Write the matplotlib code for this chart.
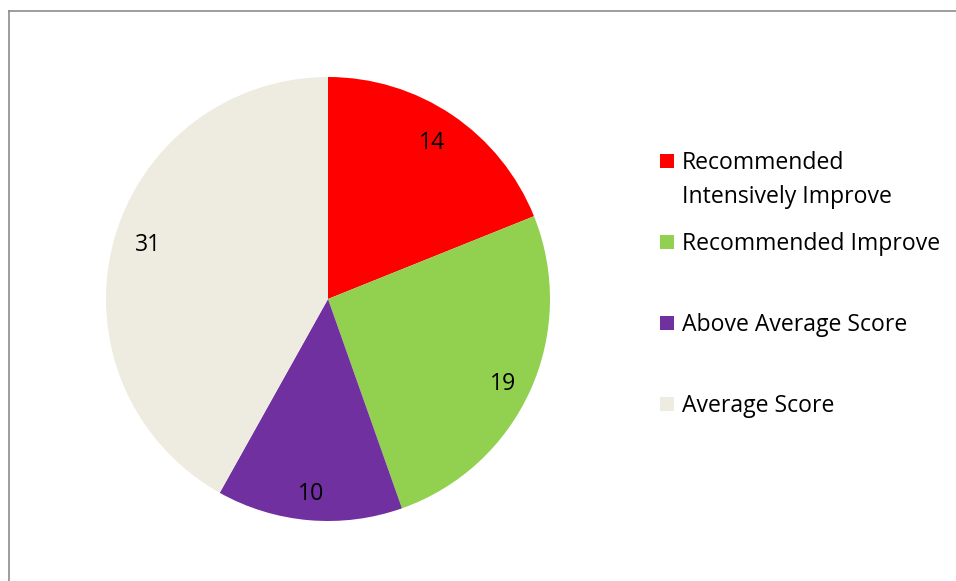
import matplotlib.pyplot as plt
from matplotlib.lines import Line2D
from matplotlib.patches import Rectangle

plt.rcParams["font.family"] = ["Open Sans", "DejaVu Sans"]

CATEGORIES = [
    "Recommended\nIntensively Improve",
    "Recommended Improve",
    "Above Average Score",
    "Average Score",
]
COUNTS = [14, 19, 10, 31]
COLORS = ["#FF0000", "#92D050", "#7030A0", "#EEECE1"]

W, H = 956, 581
FONT_SIZE = 16.6


def px(x, y):
    # pixel coords (top-left origin) -> figure fraction
    return x / W, 1 - y / H


fig = plt.figure(figsize=(W / 100, H / 100), dpi=100)

# pie centre (328, 299), radius ~222 px
cx, cy, r = 328, 299, 222
ax = fig.add_axes([(cx - r) / W, (H - cy - r) / H, 2 * r / W, 2 * r / H])
wedges, texts = ax.pie(
    COUNTS,
    colors=COLORS,
    startangle=90,
    counterclock=False,
    labels=[str(v) for v in COUNTS],
    labeldistance=0.85,
    textprops={"fontsize": FONT_SIZE, "color": "black"},
)
# small nudges (px) so the labels sit where the spreadsheet put them
nudges = [(-2, 0), (3, -7), (-1, -7), (3, 6)]
for t, (dx, dy) in zip(texts, nudges):
    t.set_horizontalalignment("center")
    t.set_verticalalignment("center")
    x, y = t.get_position()
    t.set_position((x + dx / r, y + dy / r))
ax.set_xlim(-1, 1)
ax.set_ylim(-1, 1)

# chart-area border (only left and top edges visible in the crop)
border_color = "#8C8C8C"
fig.add_artist(Line2D([8.5 / W, 8.5 / W], [0, 1 - 11 / H], transform=fig.transFigure,
                      color=border_color, linewidth=1.2))
fig.add_artist(Line2D([8.5 / W, 1], [1 - 11 / H, 1 - 11 / H], transform=fig.transFigure,
                      color=border_color, linewidth=1.2))

# legend, placed like the spreadsheet legend
legend_y = [161, 242, 323, 404]
line_gap = 34
box = 14
for label, color, y in zip(CATEGORIES, COLORS, legend_y):
    x0, y0 = px(660, y + box / 2)
    fig.add_artist(Rectangle((x0, y0), box / W, box / H, transform=fig.transFigure,
                             facecolor=color, edgecolor="none"))
    for i, line in enumerate(label.split("\n")):
        tx, ty = px(682, y + 2 + i * line_gap)
        fig.text(tx, ty, line, fontsize=FONT_SIZE, ha="left", va="center")

fig.savefig("out.png", dpi=100)
